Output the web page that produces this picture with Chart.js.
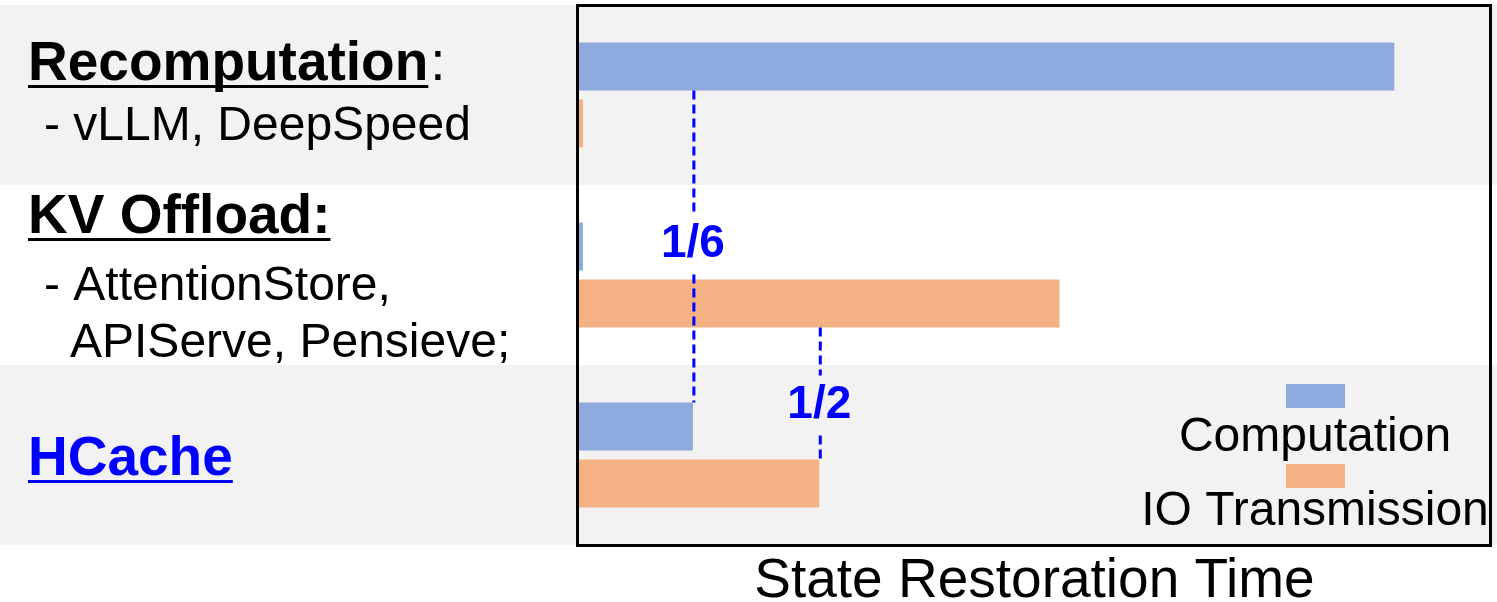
<!DOCTYPE html>
<html>
<head>
<meta charset="utf-8">
<script src="https://cdn.jsdelivr.net/npm/chart.js@4/dist/chart.umd.min.js"></script>
<style>
  body { margin: 0; background: #fff; }
  #wrap { width: 1497px; height: 602px; position: relative; }
</style>
</head>
<body>
<div id="wrap"><canvas id="chart"></canvas></div>
<script>
// data (arbitrary time units, HCache computation = 1)
const categories = ['Recomputation', 'KV Offload:', 'HCache'];
const headingSuffix = [':', '', ''];
const subLabels = [['- vLLM, DeepSpeed'], ['- AttentionStore,', 'APIServe, Pensieve;'], []];
const seriesNames = ['Computation', 'IO Transmission'];
const computation = [7.16, 0.035, 1.0];
const ioTransmission = [0.035, 4.22, 2.11];
const ratioLabels = ['1/6', '1/2'];
const xTitle = 'State Restoration Time';

const blue = '#8faadc';
const orange = '#f4b183';
const band = '#f2f2f2';
const FONT = '"Liberation Sans", Arial, Helvetica, sans-serif';

Chart.defaults.font.family = FONT;

// grey / white bands behind every category
const bands = {
  id: 'bands',
  beforeDraw(chart) {
    const ctx = chart.ctx, y = chart.scales.y;
    const half = (y.getPixelForValue(1) - y.getPixelForValue(0)) / 2;
    ctx.save();
    categories.forEach((c, i) => {
      if (i % 2 == 1) return;
      const cy = y.getPixelForValue(i);
      ctx.fillStyle = band;
      ctx.fillRect(0, cy - half, chart.width, half * 2);
    });
    ctx.restore();
  }
};

// rich text labels on the left
const leftLabels = {
  id: 'leftLabels',
  afterDraw(chart) {
    const ctx = chart.ctx, y = chart.scales.y;
    const headOff = [-15, -42, 20];
    const subOff = [[45], [25, 82], []];
    const subX = [[44], [44, 70], []];
    ctx.save();
    ctx.textBaseline = 'alphabetic';
    ctx.textAlign = 'left';
    categories.forEach((c, i) => {
      const cy = y.getPixelForValue(i);
      const base = cy + headOff[i];
      const col = i == 2 ? '#0000ff' : '#000';
      ctx.font = 'bold 55px ' + FONT;
      ctx.fillStyle = col;
      ctx.fillText(c, 28, base);
      const w = ctx.measureText(c).width;
      ctx.fillRect(28, base + 5, w, 3);
      if (headingSuffix[i]) {
        ctx.font = '55px ' + FONT;
        ctx.fillStyle = '#000';
        ctx.fillText(headingSuffix[i], 28 + w + 2, base);
      }
      ctx.font = '48px ' + FONT;
      ctx.fillStyle = '#000';
      subLabels[i].forEach((s, j) => ctx.fillText(s, subX[i][j], cy + subOff[i][j]));
    });
    ctx.restore();
  }
};

// dashed ratio markers, plot frame, legend and axis title
const extras = {
  id: 'extras',
  afterDatasetsDraw(chart) {
    const ctx = chart.ctx, x = chart.scales.x;
    const m0 = chart.getDatasetMeta(0).data, m1 = chart.getDatasetMeta(1).data;
    const marks = [
      { x: x.getPixelForValue(computation[2]), y0: m0[0].y + m0[0].height / 2, y1: m0[2].y - m0[2].height / 2, shift: -2 },
      { x: x.getPixelForValue(ioTransmission[2]), y0: m1[1].y + m1[1].height / 2, y1: m1[2].y - m1[2].height / 2, shift: 12 }
    ];
    ctx.save();
    marks.forEach((mk, i) => {
      const mid = (mk.y0 + mk.y1) / 2 + mk.shift;
      ctx.strokeStyle = '#0000ff';
      ctx.lineWidth = 3;
      ctx.setLineDash([9, 5]);
      ctx.beginPath();
      ctx.moveTo(mk.x + 1, mk.y0);
      ctx.lineTo(mk.x + 1, mid - 30);
      ctx.moveTo(mk.x + 1, mid + 30);
      ctx.lineTo(mk.x + 1, mk.y1);
      ctx.stroke();
      ctx.setLineDash([]);
      ctx.fillStyle = '#0000ff';
      ctx.font = 'bold 46px ' + FONT;
      ctx.textAlign = 'center';
      ctx.textBaseline = 'middle';
      ctx.fillText(ratioLabels[i], mk.x, mid);
    });
    ctx.restore();
  },
  afterDraw(chart) {
    const ctx = chart.ctx, a = chart.chartArea;
    ctx.save();
    ctx.strokeStyle = '#000';
    ctx.lineWidth = 3;
    ctx.strokeRect(a.left - 1.5, a.top + 0.5, a.right - a.left + 2, a.bottom - a.top);
    // legend: colour box above the name
    const cx = a.right - 175;
    chart.data.datasets.forEach((ds, i) => {
      const top = a.bottom - 161 + i * 80;
      ctx.fillStyle = ds.backgroundColor;
      ctx.fillRect(cx - 29, top, 59, 24);
      ctx.fillStyle = '#000';
      ctx.font = '48px ' + FONT;
      ctx.textAlign = 'center';
      ctx.textBaseline = 'alphabetic';
      ctx.fillText(ds.label, cx, a.bottom - 94 + i * 74);
    });
    // x axis title
    ctx.font = '55px ' + FONT;
    ctx.fillText(xTitle, (a.left + a.right) / 2, a.bottom + 52);
    ctx.restore();
  }
};

new Chart(document.getElementById('chart'), {
  type: 'bar',
  data: {
    labels: categories,
    datasets: [
      { label: seriesNames[0], data: computation, backgroundColor: blue },
      { label: seriesNames[1], data: ioTransmission, backgroundColor: orange }
    ]
  },
  options: {
    indexAxis: 'y',
    responsive: true,
    maintainAspectRatio: false,
    animation: false,
    categoryPercentage: 0.633,
    barPercentage: 0.842,
    layout: { padding: { left: 579, top: 5, right: 7, bottom: 57 } },
    scales: {
      x: { display: false, min: 0, max: 8 },
      y: { display: false }
    },
    plugins: { legend: { display: false }, tooltip: { enabled: false } }
  },
  plugins: [bands, leftLabels, extras]
});
</script>
</body>
</html>
